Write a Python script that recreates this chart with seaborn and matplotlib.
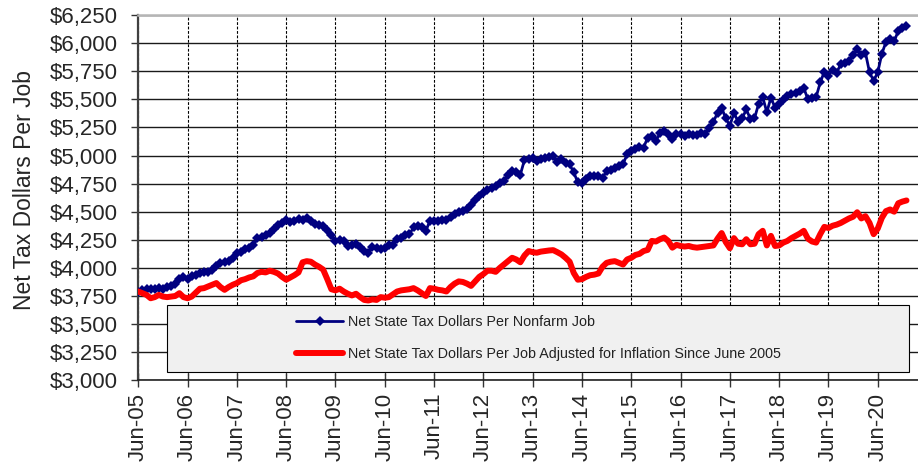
import numpy as np
import pandas as pd
import seaborn as sns
import matplotlib
matplotlib.use('Agg')
from matplotlib import pyplot as plt
from matplotlib.patches import Rectangle
from matplotlib.ticker import FuncFormatter

# monthly values, Jun-05 onwards
nominal = [
    3790, 3800, 3810, 3815, 3810, 3820, 3815, 3830, 3840, 3860, 3900, 3915,
    3905, 3925, 3940, 3955, 3965, 3960, 3985, 4020, 4040, 4050, 4060, 4090,
    4130, 4145, 4165, 4180, 4200, 4265, 4275, 4290, 4310, 4350, 4380, 4400,
    4425, 4405, 4420, 4435, 4430, 4440, 4420, 4395, 4385, 4370, 4340, 4290,
    4240, 4250, 4235, 4195, 4200, 4215, 4185, 4150, 4135, 4190, 4175, 4165,
    4180, 4200, 4205, 4260, 4270, 4290, 4300, 4360, 4370, 4360, 4330, 4420,
    4420, 4415, 4425, 4430, 4450, 4480, 4495, 4505, 4525, 4560, 4600, 4640,
    4665, 4690, 4710, 4730, 4755, 4770, 4830, 4860, 4855, 4830, 4960, 4970,
    4975, 4955, 4965, 4980, 4990, 4995, 4940, 4965, 4935, 4920, 4850, 4760,
    4755, 4790, 4815, 4820, 4820, 4800, 4860, 4870, 4890, 4905, 4925, 5010,
    5040, 5060, 5075, 5070, 5160, 5175, 5130, 5200, 5220, 5190, 5150, 5190,
    5195, 5175, 5190, 5185, 5185, 5200, 5190, 5245, 5300, 5380, 5425, 5330,
    5265, 5380, 5300, 5330, 5410, 5325, 5330, 5460, 5520, 5385, 5515, 5425,
    5460, 5495, 5525, 5545, 5560, 5575, 5600, 5500, 5515, 5520, 5650, 5745,
    5710, 5760, 5735, 5815, 5825, 5845, 5890, 5945, 5895, 5915, 5740, 5665,
    5740, 5905, 6010, 6040, 6015, 6110, 6135, 6155,
]

real = [
    3790, 3775, 3760, 3730, 3740, 3760, 3745, 3740, 3745, 3750, 3775, 3740,
    3730, 3745, 3780, 3815, 3820, 3835, 3850, 3865, 3830, 3805, 3830, 3850,
    3865, 3890, 3900, 3915, 3925, 3955, 3965, 3960, 3975, 3965, 3950, 3920,
    3895, 3915, 3935, 3960, 4050, 4060, 4055, 4030, 4010, 3985, 3900, 3810,
    3800, 3815, 3790, 3770, 3755, 3770, 3740, 3715, 3710, 3720, 3715, 3740,
    3735, 3740, 3765, 3790, 3800, 3805, 3810, 3820, 3800, 3775, 3750, 3820,
    3815, 3805, 3800, 3790, 3830, 3860, 3880, 3875, 3860, 3840, 3880, 3920,
    3945, 3975, 3975, 3965, 4000, 4030, 4060, 4090, 4075, 4050, 4110, 4150,
    4140, 4135, 4145, 4150, 4155, 4158, 4140, 4120, 4090, 4055, 3955, 3895,
    3900, 3920, 3935, 3940, 3950, 4010, 4045, 4055, 4060, 4045, 4030, 4075,
    4090, 4115, 4125, 4150, 4160, 4240, 4235, 4255, 4270, 4240, 4180, 4205,
    4195, 4190, 4195, 4185, 4180, 4185, 4190, 4195, 4200, 4260, 4310, 4230,
    4175, 4265, 4215, 4210, 4255, 4210, 4215, 4300, 4330, 4200, 4285, 4195,
    4200, 4225, 4240, 4265, 4285, 4305, 4330, 4260, 4235, 4225, 4300, 4365,
    4355, 4375, 4385, 4400, 4420, 4440, 4455, 4495, 4440, 4460, 4400, 4300,
    4350, 4445, 4505, 4520, 4500, 4575, 4590, 4600,
]

tick_labels = ['Jun-05', 'Jun-06', 'Jun-07', 'Jun-08', 'Jun-09', 'Jun-10',
               'Jun-11', 'Jun-12', 'Jun-13', 'Jun-14', 'Jun-15', 'Jun-16',
               'Jun-17', 'Jun-18', 'Jun-19', 'Jun-20']
y_ticks = [3000, 3250, 3500, 3750, 4000, 4250, 4500, 4750,
           5000, 5250, 5500, 5750, 6000, 6250]

label_nominal = 'Net State Tax Dollars Per Nonfarm Job'
label_real = 'Net State Tax Dollars Per Job Adjusted for Inflation Since June 2005'

df = pd.DataFrame({'month': np.arange(len(nominal)), 'nominal': nominal, 'real': real})

sns.set_style('white')
plt.rcParams['font.family'] = ['Liberation Sans', 'DejaVu Sans']

W, H = 918, 469
fig = plt.figure(figsize=(W / 100, H / 100), dpi=100)
ax = fig.add_axes([138.3 / W, 1 - 380.3 / H, (W - 138.3) / W, (380.3 - 15) / H])

sns.lineplot(data=df, x='month', y='nominal', ax=ax, color='#000080', linewidth=2,
             marker='D', markersize=5, markeredgewidth=0, label=label_nominal, zorder=4)
sns.lineplot(data=df, x='month', y='real', ax=ax, color='#ff0000', linewidth=4.3,
             solid_joinstyle='round', solid_capstyle='round', label=label_real, zorder=5)

# one month = 4.108 px; axis runs past the right edge of the picture
ax.set_xlim(0, (W - 138.3) / 4.108)
ax.set_ylim(3000, 6250)
ax.set_yticks(y_ticks)
ax.yaxis.set_major_formatter(FuncFormatter(lambda v, p: '${:,.0f}'.format(v)))
ax.set_xticks(range(0, 12 * len(tick_labels), 12))
ax.set_xticklabels(tick_labels, rotation=90)

ax.tick_params(axis='y', direction='out', length=5, width=1, pad=9.5,
               labelsize=16, left=True, color='#333333')
ax.tick_params(axis='x', direction='inout', length=10, width=1, pad=4,
               labelsize=16, bottom=True, color='#333333')

ax.yaxis.grid(True, color='#1a1a1a', linewidth=1, linestyle='-')
ax.xaxis.grid(True, color='black', linewidth=0.8, linestyle=(0, (2.5, 1.5)))
ax.set_axisbelow(True)

ax.spines['left'].set_color('#404040')
ax.spines['left'].set_linewidth(1.6)
ax.spines['bottom'].set_color('#222222')
ax.spines['bottom'].set_linewidth(1.2)
ax.spines['top'].set_color('#b5b5b5')
ax.spines['top'].set_linewidth(1.8)
ax.spines['right'].set_visible(False)

ax.set_xlabel('')
ax.set_ylabel('Net Tax Dollars Per Job', fontsize=16.5)
ax.yaxis.set_label_coords(-0.131, 0.52)

# grey legend panel
box = Rectangle((166.7 / W, 1 - 371.7 / H), (909 - 166.7) / W, (371.7 - 305) / H,
                transform=fig.transFigure, facecolor='#f0f0f0', edgecolor='black',
                linewidth=0.8, clip_on=False, zorder=3)
ax.add_patch(box)

leg = ax.legend(loc='upper left', bbox_to_anchor=(296 / W, 1 - 315 / H),
                bbox_transform=fig.transFigure, frameon=False, fontsize=10.3,
                handlelength=3.3, handletextpad=0.3, labelspacing=1.25,
                borderpad=0, borderaxespad=0)
for t in leg.get_texts():
    t.set_color('#222222')
leg.set_zorder(6)

fig.savefig('out.png', dpi=100)
